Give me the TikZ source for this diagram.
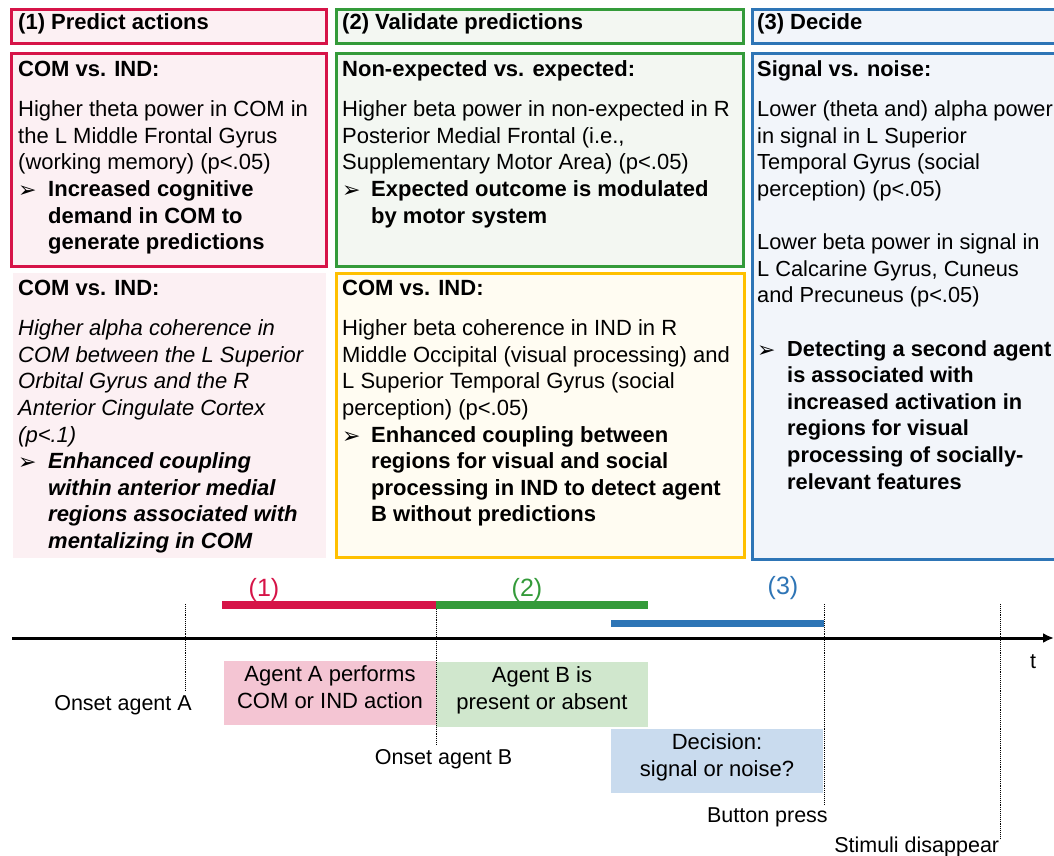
\documentclass[tikz,border=0pt]{standalone}
\usepackage{fontspec}
\setmainfont{Liberation Sans}
\newfontfamily\arrfont{DejaVu Sans}
\usetikzlibrary{arrows.meta}
\definecolor{cred}{RGB}{214,20,72}
\definecolor{cgreen}{RGB}{52,155,58}
\definecolor{cblue}{RGB}{46,117,182}
\definecolor{cyellow}{RGB}{255,192,0}
\definecolor{fred}{RGB}{252,240,243}
\definecolor{fgreen}{RGB}{243,247,242}
\definecolor{fblue}{RGB}{242,245,250}
\definecolor{fyellow}{RGB}{255,252,242}
\definecolor{tred}{RGB}{244,197,211}
\definecolor{tgreen}{RGB}{208,231,205}
\definecolor{tblue}{RGB}{201,219,238}
\newcommand{\bodyfont}{\fontsize{22}{26.6}\selectfont}
\newcommand{\arrglyph}{\raisebox{-1pt}{\arrfont\fontsize{22}{22}\selectfont ➢}}
\newcommand{\bul}{\makebox[30pt][l]{\arrglyph}}
\newcommand{\bulb}{\makebox[29pt][l]{\arrglyph}}
\newcommand{\ind}{\hspace*{30pt}}
\newcommand{\indb}{\hspace*{29pt}}
\tikzset{
  panel/.style={line width=3pt, inner sep=0pt, anchor=north west},
  txt/.style={anchor=north west, inner sep=0pt, align=left, font=\bodyfont},
  head/.style={anchor=base west, inner sep=0pt, font=\bodyfont\bfseries},
  tlbox/.style={inner sep=0pt, anchor=north west},
  tltxt/.style={inner sep=0pt, align=center, anchor=north, font=\fontsize{22}{27}\selectfont},
  lbl/.style={inner sep=0pt, anchor=base, font=\fontsize{21.5}{26}\selectfont},
  num/.style={inner sep=0pt, anchor=base, font=\fontsize{25}{30}\selectfont},
  bar/.style={line width=7.5pt},
  marker/.style={line width=0.9pt, densely dotted}
}
\begin{document}
\begin{tikzpicture}[x=1pt,y=-1pt]
\clip (0,0) rectangle (1054,856);
\fill[white] (0,0) rectangle (1054,856);
% header panels
\node[panel, draw=cred, fill=fred, minimum width=315pt, minimum height=34pt] (h1) at (10,8) {};
\node[panel, draw=cgreen, fill=fgreen, minimum width=407pt, minimum height=34pt] (h2) at (335,8) {};
\node[panel, draw=cblue, fill=fblue, minimum width=320pt, minimum height=34pt] (h3) at (751,8) {};
\node[head] (h1t) at (18,30) {(1) Predict actions};
\node[head] (h2t) at (342,30) {(2) Validate predictions};
\node[head] (h3t) at (757,30) {(3) Decide};
% content panels
\node[panel, draw=cred, fill=fred, minimum width=315pt, minimum height=213pt] (b1a) at (10,52) {};
\node[panel, fill=fred, minimum width=313pt, minimum height=285pt] (b1b) at (11,271) {};
\node[panel, draw=cgreen, fill=fgreen, minimum width=407pt, minimum height=213pt] (b2a) at (335,52) {};
\node[panel, draw=cyellow, fill=fyellow, minimum width=408pt, minimum height=284pt] (b2b) at (335,272) {};
\node[panel, draw=cblue, fill=fblue, minimum width=320pt, minimum height=506pt] (b3) at (751,52) {};
% texts
\node[txt] (t1a) at (18,57.3) {\strut\textbf{COM vs. IND:}\\[14pt]
Higher theta power in COM in\\
the L Middle Frontal Gyrus\\
(working memory) (p<.05)\\
\bul\textbf{Increased cognitive}\\
\ind\textbf{demand in COM to}\\
\ind\textbf{generate predictions}};
\node[txt] (t1b) at (18,276.3) {\strut\textbf{COM vs. IND:}\\[14pt]
\itshape Higher alpha coherence in\\
\itshape COM between the L Superior\\
\itshape Orbital Gyrus and the R\\
\itshape Anterior Cingulate Cortex\\
\itshape (p<.1)\\
\bul\textbf{\itshape Enhanced coupling}\\
\ind\textbf{\itshape within anterior medial}\\
\ind\textbf{\itshape regions associated with}\\
\ind\textbf{\itshape mentalizing in COM}};
\node[txt] (t2a) at (342,57.3) {\strut\textbf{Non-expected vs. expected:}\\[14pt]
Higher beta power in non-expected in R\\
Posterior Medial Frontal (i.e.,\\
Supplementary Motor Area) (p<.05)\\
\bulb\textbf{Expected outcome is modulated}\\
\indb\textbf{by motor system}};
\node[txt] (t2b) at (342,276.3) {\strut\textbf{COM vs. IND:}\\[14pt]
Higher beta coherence in IND in R\\
Middle Occipital (visual processing) and\\
L Superior Temporal Gyrus (social\\
perception) (p<.05)\\
\bulb\textbf{Enhanced coupling between}\\
\indb\textbf{regions for visual and social}\\
\indb\textbf{processing in IND to detect agent}\\
\indb\textbf{B without predictions}};
\node[txt, font=\fontsize{21.8}{26.6}\selectfont] (t3) at (757,57.3) {\strut\textbf{Signal vs. noise:}\\[14pt]
Lower (theta and) alpha power\\
in signal in L Superior\\
Temporal Gyrus (social\\
perception) (p<.05)\\[26.6pt]
Lower beta power in signal in\\
L Calcarine Gyrus, Cuneus\\
and Precuneus (p<.05)\\[26.6pt]
\bul\textbf{Detecting a second agent}\\
\ind\textbf{is associated with}\\
\ind\textbf{increased activation in}\\
\ind\textbf{regions for visual}\\
\ind\textbf{processing of socially-}\\
\ind\textbf{relevant features}};
% timeline boxes
\node[tlbox, fill=tred, minimum width=212.5pt, minimum height=64pt] (pa) at (223.5,661) {};
\node[tlbox, fill=tgreen, minimum width=212pt, minimum height=65pt] (pb) at (436,662) {};
\node[tlbox, fill=tblue, minimum width=212pt, minimum height=64pt] (pc) at (611,729) {};
\node[tltxt] (pat) at (330,662.8) {\strut Agent A performs\\COM or IND action};
\node[tltxt] (pbt) at (542,663.8) {\strut Agent B is\\present or absent};
\node[tltxt] (pct) at (717,730.1) {\strut Decision:\\signal or noise?};
% axis
\coordinate (ax0) at (12,638);
\coordinate (ax1) at (1054,638);
\draw[line width=3pt, -{Latex[length=11pt,width=10pt]}] (ax0) -- (ax1);
% phase bars
\coordinate (r0) at (222,605); \coordinate (r1) at (436,605);
\coordinate (g0) at (436,605); \coordinate (g1) at (648,605);
\coordinate (u0) at (611,623); \coordinate (u1) at (824,623);
\draw[bar, cred] (r0) -- (r1);
\draw[bar, cgreen] (g0) -- (g1);
\draw[bar, cblue, line width=7pt] (u0) -- (u1);
\node[num, text=cred] (n1) at (264,596.5) {(1)};
\node[num, text=cgreen] (n2) at (527,596.5) {(2)};
\node[num, text=cblue] (n3) at (783,594) {(3)};
% event markers
\coordinate (ea0) at (185,604); \coordinate (ea1) at (185,690);
\coordinate (eb0) at (436,609); \coordinate (eb1) at (436,744);
\coordinate (ec0) at (824,604); \coordinate (ec1) at (824,805);
\coordinate (ed0) at (1000,604); \coordinate (ed1) at (1000,838);
\draw[marker] (ea0) -- (ea1);
\draw[marker] (eb0) -- (eb1);
\draw[marker] (ec0) -- (ec1);
\draw[marker] (ed0) -- (ed1);
\node[lbl] (la) at (123,710) {Onset agent A};
\node[lbl] (lb) at (443.5,764.5) {Onset agent B};
\node[lbl] (lc) at (767.4,822) {Button press};
\node[lbl] (ld) at (916.7,852) {Stimuli disappear};
\node[lbl] (lt) at (1033,668) {t};
\end{tikzpicture}
\end{document}
